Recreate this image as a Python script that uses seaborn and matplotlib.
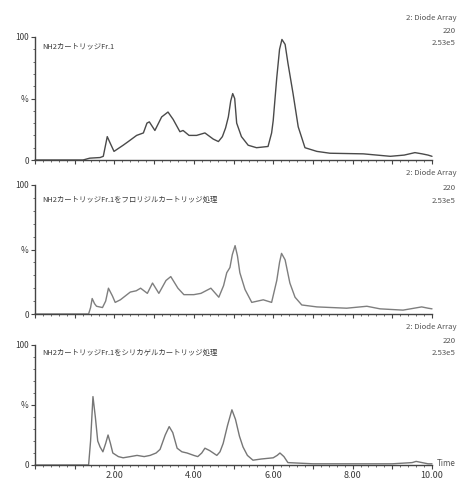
import matplotlib
matplotlib.use("Agg")
import matplotlib.pyplot as plt
import seaborn as sns
import pandas as pd
from matplotlib.ticker import MultipleLocator, FixedLocator, FuncFormatter

# Retention time (min) and relative intensity (%) for each chromatogram
time_fr1 = [0.0, 1.0, 1.21, 1.38, 1.64, 1.72, 1.82, 1.89, 1.99, 2.22, 2.35, 2.56, 2.73, 2.82,
            2.88, 3.02, 3.19, 3.35, 3.48, 3.65, 3.73, 3.88, 4.07, 4.28, 4.49, 4.62, 4.72, 4.8,
            4.87, 4.93, 4.98, 5.03, 5.08, 5.2, 5.37, 5.58, 5.87, 5.96, 6.0, 6.09, 6.16, 6.22,
            6.3, 6.37, 6.5, 6.63, 6.8, 7.1, 7.43, 8.27, 8.95, 9.3, 9.57, 9.75, 9.9, 10.0]
int_fr1 = [0, 0, 0, 1.5, 2, 3, 19, 14, 7, 12, 15, 20, 22, 30,
           31, 24, 35, 39, 33, 23, 24, 20, 20, 22, 17, 15, 19, 26,
           35, 48, 54, 50, 30, 19, 12, 10, 11, 22, 32, 67, 90, 98,
           94, 79, 54, 27, 10, 7, 5.5, 5, 3, 4, 6, 5, 4, 3]

time_florisil = [0.0, 1.35, 1.4, 1.44, 1.5, 1.55, 1.7, 1.78, 1.85, 1.95, 2.02, 2.15, 2.4, 2.55,
                 2.66, 2.83, 2.96, 3.12, 3.3, 3.42, 3.6, 3.75, 4.0, 4.18, 4.43, 4.63, 4.75,
                 4.83, 4.91, 4.97, 5.04, 5.1, 5.16, 5.29, 5.46, 5.75, 5.96, 6.09, 6.16, 6.21,
                 6.3, 6.42, 6.55, 6.72, 7.1, 7.85, 8.36, 8.69, 9.27, 9.74, 9.9, 10.0]
int_florisil = [0, 0, 5, 12, 8, 6, 5, 10, 20, 14, 9, 11, 17, 18,
                20, 16, 24, 16, 26, 29, 20, 15, 15, 16, 20, 13, 22,
                32, 36, 46, 53, 45, 32, 19, 9, 11, 9, 26, 40, 47,
                42, 24, 13, 7, 5.5, 4.5, 6, 4, 3, 5.5, 4.5, 4]

time_silica = [0.0, 1.35, 1.4, 1.46, 1.52, 1.58, 1.64, 1.71, 1.78, 1.84, 1.9, 1.96, 2.1, 2.22,
               2.4, 2.57, 2.75, 2.9, 3.05, 3.15, 3.28, 3.38, 3.47, 3.58, 3.7, 3.83, 4.0, 4.1,
               4.2, 4.28, 4.4, 4.58, 4.66, 4.74, 4.85, 4.96, 5.05, 5.15, 5.24, 5.35, 5.49,
               5.7, 6.0, 6.1, 6.17, 6.27, 6.37, 7.0, 8.0, 9.0, 9.5, 9.6, 9.75, 9.9, 10.0]
int_silica = [0, 0, 20, 57, 40, 20, 15, 11, 18, 25, 18, 10, 7, 6,
              7, 8, 7, 8, 10, 13, 25, 32, 27, 14, 11, 10, 8, 7,
              10, 14, 12, 8, 11, 18, 33, 46, 38, 24, 15, 8, 4,
              5, 6, 8, 10, 7, 2, 1, 1, 1, 2, 3, 2, 1, 1]

titles = ["NH2カートリッジFr.1",
          "NH2カートリッジFr.1をフロリジルカートリッジ処理",
          "NH2カートリッジFr.1をシリカゲルカートリッジ処理"]
detector_lines = ["2: Diode Array", "220", "2.53e5"]
x_tick_values = [2, 4, 6, 8, 10]
y_tick_values = [0, 50, 100]
y_tick_labels = ["0", "%", "100"]

sns.set_style("ticks")
plt.rcParams["font.family"] = ["Noto Sans CJK JP", "DejaVu Sans"]

W, H = 458, 479
fig = plt.figure(figsize=(W / 100, H / 100), dpi=100)

# pixel geometry of each panel: (y of 100 %, y of 0 %)
panels = [(37, 160), (185, 314), (345, 465)]
x_left, x_right = 35, 432
line_colors = ["#4a4a4a", "#7e7e7e", "#767676"]
series = [(time_fr1, int_fr1), (time_florisil, int_florisil), (time_silica, int_silica)]
detector_y = [(18, 31, 43), (173, 188, 201), (327, 341, 353)]
title_y = [46, 200, 353]

text_color = "#3a3a3a"
for i, ((ytop, ybot), (t, v)) in enumerate(zip(panels, series)):
    ax = fig.add_axes([x_left / W, 1 - ybot / H, (x_right - x_left) / W, (ybot - ytop) / H])
    df = pd.DataFrame({"time": t, "intensity": v})
    sns.lineplot(data=df, x="time", y="intensity", ax=ax, color=line_colors[i],
                 linewidth=1.0, clip_on=False)
    ax.set_xlim(0, 10)
    ax.set_ylim(0, 100)
    ax.set_xlabel("")
    ax.set_ylabel("")
    for s in ("top", "right"):
        ax.spines[s].set_visible(False)
    for s in ("left", "bottom"):
        ax.spines[s].set_color("#444444")
        ax.spines[s].set_linewidth(1.0)

    ax.yaxis.set_major_locator(FixedLocator(y_tick_values))
    ax.set_yticklabels(y_tick_labels)
    ax.yaxis.set_minor_locator(MultipleLocator(10))
    ax.xaxis.set_major_locator(MultipleLocator(1))
    ax.xaxis.set_minor_locator(MultipleLocator(0.2))
    ax.tick_params(axis="both", which="major", length=3, width=0.8, color="#444444",
                   labelsize=6, labelcolor=text_color, pad=1.5)
    ax.tick_params(axis="both", which="minor", length=1.6, width=0.6, color="#555555")
    if i == 2:
        ax.xaxis.set_major_formatter(FuncFormatter(
            lambda x, p: f"{x:.2f}" if round(x) in x_tick_values else ""))
        ax.tick_params(axis="x", labelsize=6.5, pad=1)
    else:
        ax.set_xticklabels([])

    fig.text(42 / W, 1 - title_y[i] / H, titles[i], fontsize=5.3, color=text_color,
             va="center", ha="left")
    for txt, yy in zip(detector_lines, detector_y[i]):
        fig.text(456 / W, 1 - yy / H, txt, fontsize=5.6, color="#555555",
                 va="center", ha="right")

fig.text(456 / W, 1 - 464 / H, "Time", fontsize=5.8, color="#555555", va="center", ha="right")

fig.savefig("out.png", dpi=100)
